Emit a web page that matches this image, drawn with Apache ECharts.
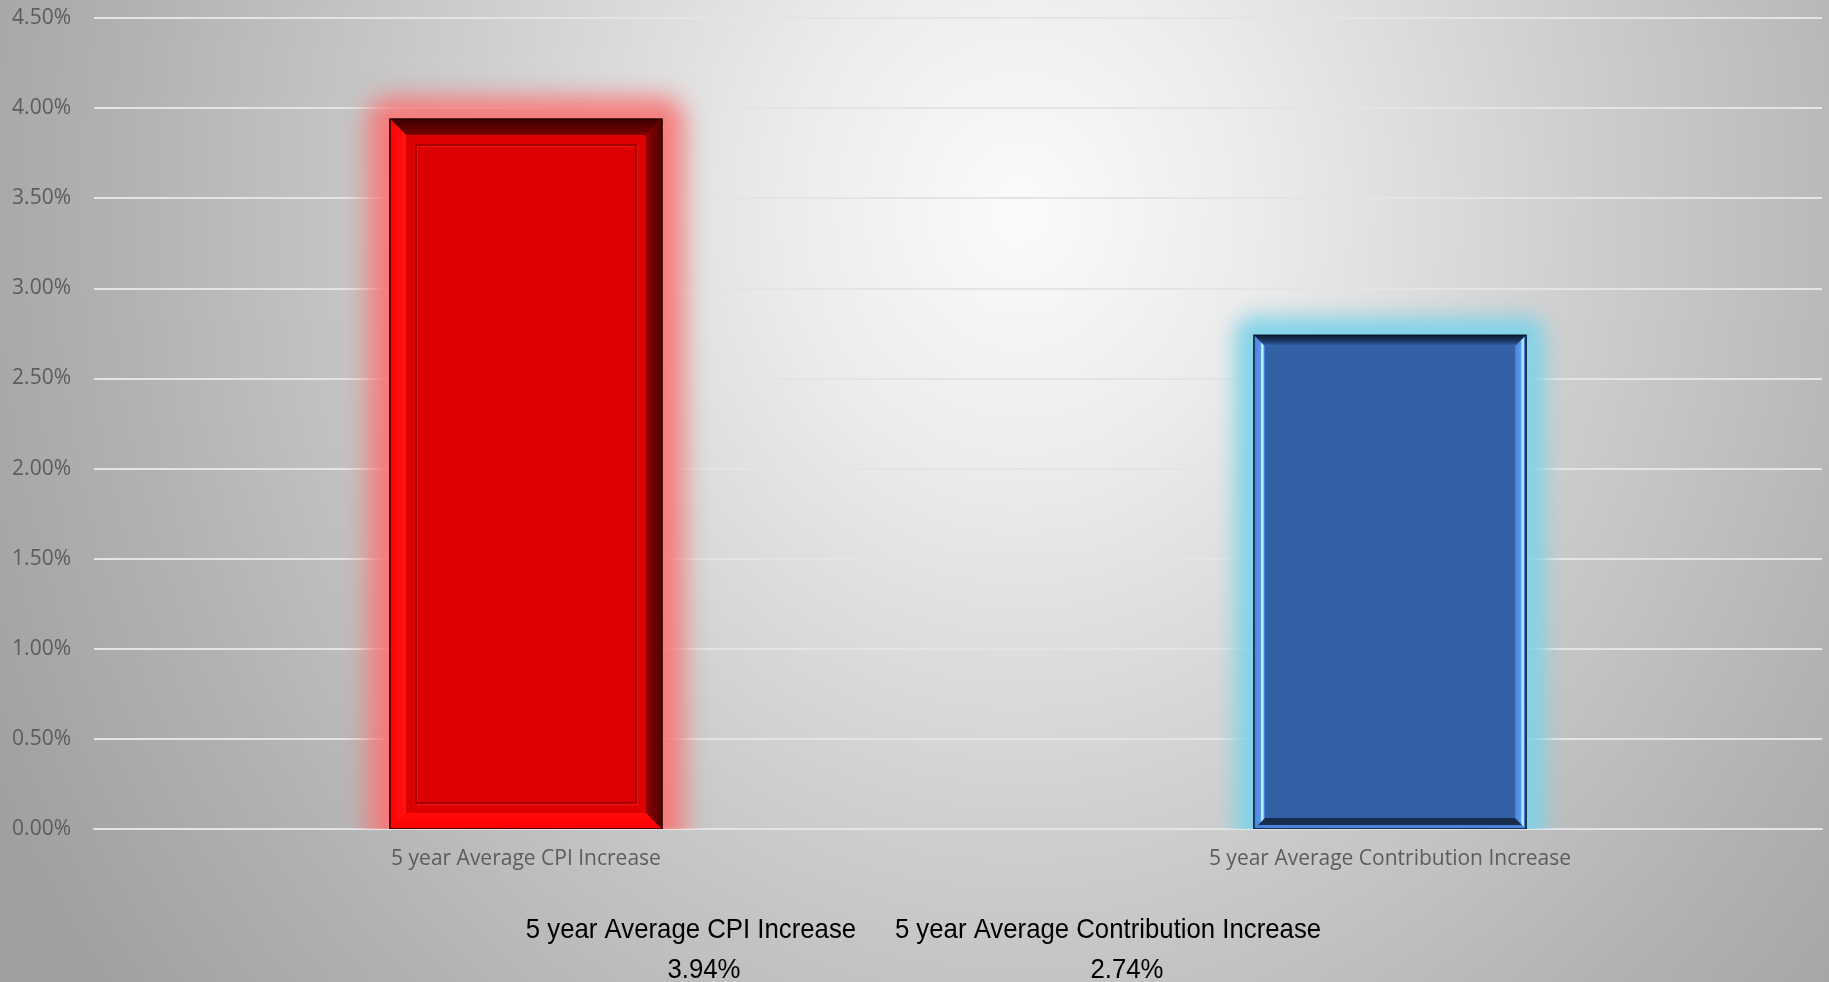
<!DOCTYPE html>
<html>
<head>
<meta charset="utf-8">
<title>5 year Average CPI vs Contribution Increase</title>
<script src="https://cdn.jsdelivr.net/npm/echarts@6/dist/echarts.min.js"></script>
<style>
  html, body { margin: 0; padding: 0; }
  #chart {
    width: 1829px;
    height: 982px;
    background: radial-gradient(ellipse 1150px 1300px at 1020px 210px,
      #fbfbfb 0%, #ececec 20%, #cfcfcf 48%, #b2b2b2 78%, #a0a0a0 100%);
  }
</style>
</head>
<body>
<div id="chart"></div>
<script>
// Chart data (percent)
const categories = ['5 year Average CPI Increase', '5 year Average Contribution Increase'];
const averageIncrease = [3.94, 2.74];

// Value axis range (percent)
const axisMin = 0;
const axisMax = 4.5;
const axisStep = 0.5;

const fmtPct = v => v.toFixed(2) + '%';

// Visual look of each bar: glow + bevelled frame
const BAR_WIDTH_RATIO = 0.315;
const BAR_LOOKS = [
  {
    glow: 'rgba(248,118,118,0.95)', glowSpread: 22, glowBlur: 24,
    border: '#2a0000', bevel: 16,
    top:    [[0, '#3a0000'], [1, '#7c0000']],
    bottom: [[0, '#ff0a0a'], [1, '#ff0000']],
    left:   [[0, '#ff0000'], [1, '#ff1414']],
    right:  [[0, '#8c0000'], [1, '#4c0000']],
    face: '#dc0000',
    groove: { inset: 10, dark: '#a80000', light: '#f01010' }
  },
  {
    glow: 'rgba(126,210,232,0.95)', glowSpread: 19, glowBlur: 20,
    border: '#0c1a30', bevel: 11,
    top:    [[0, '#0f1c30'], [0.55, '#1f3a66'], [1, '#3568b4']],
    bottom: [[0, '#1b2d4d'], [0.6, '#1b2d4d'], [0.66, '#4a84d8'], [1, '#4a84d8']],
    left:   [[0, '#4a84dc'], [0.6, '#5a98ea'], [0.7, '#b8f0ff'], [0.85, '#b8f0ff'], [0.9, '#4a84dc'], [1, '#4a84dc']],
    right:  [[0, '#4a84dc'], [0.5, '#5a98ea'], [0.62, '#a8e4ff'], [0.8, '#a8e4ff'], [0.86, '#3f78d0'], [1, '#3f78d0']],
    face: '#3461a6',
    groove: null
  }
];

// the glow rect is painted far off to the side so only its blurred shadow shows
const GLOW_SHIFT = 6000;

function grad(vertical, stops) {
  const cs = stops.map(s => ({ offset: s[0], color: s[1] }));
  return vertical
    ? new echarts.graphic.LinearGradient(0, 0, 0, 1, cs)
    : new echarts.graphic.LinearGradient(0, 0, 1, 0, cs);
}

function renderBar(params, api) {
  const idx = api.value(0);
  const topPt = api.coord([idx, api.value(1)]);
  const basePt = api.coord([idx, 0]);
  const w = api.size([1, 0])[0] * BAR_WIDTH_RATIO;
  const x0 = topPt[0] - w / 2, x1 = topPt[0] + w / 2;
  const y0 = topPt[1], y1 = basePt[1];
  const h = y1 - y0;
  const look = BAR_LOOKS[idx % BAR_LOOKS.length];
  const b = look.bevel;
  const s = look.glowSpread;
  const kids = [];

  // soft glow around the bar
  kids.push({
    type: 'rect',
    shape: { x: x0 - s + GLOW_SHIFT, y: y0 - s, width: w + 2 * s, height: h + 2 * s, r: s },
    style: { fill: '#000', shadowBlur: look.glowBlur, shadowColor: look.glow,
      shadowOffsetX: -GLOW_SHIFT, shadowOffsetY: 0 },
    silent: true
  });
  // face
  kids.push({
    type: 'rect',
    shape: { x: x0, y: y0, width: w, height: h },
    style: { fill: look.face }
  });
  // bevel edges
  kids.push({ type: 'polygon', shape: { points: [[x0, y0], [x1, y0], [x1 - b, y0 + b], [x0 + b, y0 + b]] },
    style: { fill: grad(true, look.top) } });
  kids.push({ type: 'polygon', shape: { points: [[x0 + b, y1 - b], [x1 - b, y1 - b], [x1, y1], [x0, y1]] },
    style: { fill: grad(true, look.bottom) } });
  kids.push({ type: 'polygon', shape: { points: [[x0, y0], [x0 + b, y0 + b], [x0 + b, y1 - b], [x0, y1]] },
    style: { fill: grad(false, look.left) } });
  kids.push({ type: 'polygon', shape: { points: [[x1 - b, y0 + b], [x1, y0], [x1, y1], [x1 - b, y1 - b]] },
    style: { fill: grad(false, look.right) } });
  // inner groove
  if (look.groove) {
    const g = look.groove, ix = x0 + b + g.inset, iy = y0 + b + g.inset;
    const iw = w - 2 * (b + g.inset), ih = h - 2 * (b + g.inset);
    kids.push({ type: 'rect', shape: { x: ix + 1.5, y: iy + 1.5, width: iw, height: ih },
      style: { fill: 'none', stroke: g.light, lineWidth: 1.5 } });
    kids.push({ type: 'rect', shape: { x: ix, y: iy, width: iw, height: ih },
      style: { fill: 'none', stroke: g.dark, lineWidth: 2 } });
  }
  // outer outline
  kids.push({
    type: 'rect',
    shape: { x: x0, y: y0, width: w, height: h },
    style: { fill: 'none', stroke: look.border, lineWidth: 1.5 }
  });
  return { type: 'group', children: kids };
}

// Data table under the chart: series name over its value
const tableFont = '28px "Liberation Sans", Arial, sans-serif';
const tableNameX = [691, 1108];
const tableValueX = [704, 1127];
const tableGraphic = [];
categories.forEach((name, i) => {
  tableGraphic.push({
    type: 'text', x: tableNameX[i], y: 930, scaleX: 0.92,
    style: { text: name, font: tableFont, fill: '#000',
      align: 'center', verticalAlign: 'middle', textAlign: 'center', textVerticalAlign: 'middle' }
  });
  tableGraphic.push({
    type: 'text', x: tableValueX[i], y: 970, scaleX: 0.92,
    style: { text: fmtPct(averageIncrease[i]), font: tableFont, fill: '#000',
      align: 'center', verticalAlign: 'middle', textAlign: 'center', textVerticalAlign: 'middle' }
  });
});

const chart = echarts.init(document.getElementById('chart'), null, { renderer: 'canvas' });
chart.setOption({
  backgroundColor: 'transparent',
  animation: false,
  grid: { left: 94, right: 7, top: 18, bottom: 153 },
  xAxis: {
    type: 'category',
    data: categories,
    axisLine: { show: true, lineStyle: { color: '#e4e4e4', width: 2 } },
    axisTick: { show: false },
    axisLabel: { color: '#5c5c5c', fontSize: 21, fontFamily: 'Open Sans', margin: 20 },
    splitLine: { show: false }
  },
  yAxis: {
    type: 'value',
    min: axisMin, max: axisMax, interval: axisStep,
    axisLine: { show: false },
    axisTick: { show: false },
    axisLabel: { formatter: fmtPct, color: '#5c5c5c', fontSize: 21, fontFamily: 'Open Sans', margin: 23 },
    splitLine: { lineStyle: { color: '#e4e4e4', width: 2 } }
  },
  series: [{
    type: 'custom',
    name: 'Average increase',
    renderItem: renderBar,
    data: categories.map((c, i) => [i, averageIncrease[i]]),
    encode: { x: 0, y: 1 },
    clip: true,
    z: 3
  }],
  graphic: tableGraphic
});
</script>
</body>
</html>
